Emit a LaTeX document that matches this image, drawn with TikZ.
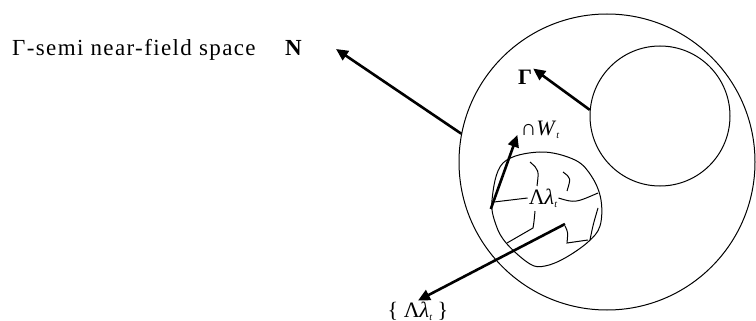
\documentclass[tikz,border=0pt]{standalone}
\usepackage{fontspec}
\setmainfont{Liberation Serif}
\usepackage{tikz}
\usetikzlibrary{arrows.meta}

\begin{document}
\begin{tikzpicture}[x=1pt,y=-1pt,font=\fontsize{23}{26}\selectfont,
  lbl/.style={inner sep=1pt,font=\fontsize{22}{24}\selectfont},
  ring/.style={circle,draw,line width=1pt,inner sep=0pt},
  ar/.style={-{Triangle[length=12pt,width=11pt]},line width=2.6pt},
  ln/.style={line width=1pt}]
\useasboundingbox (0,0) rectangle (756,321);
% outer space and the gamma set
\node[ring,minimum size=296pt] (space) at (607,162) {};
\node[ring,minimum size=140pt] (gset) at (660,116) {};
% labels
\node[inner sep=1pt,anchor=base west] (title) at (11,56) {\addfontfeature{LetterSpace=6}Γ-semi near-field space};
\node[inner sep=1pt,anchor=base west] (nN) at (284,56) {\textbf{N}};
\node[lbl] (gam) at (525,77) {\textbf{Γ}};
\node[lbl] (capW) at (540,130) {∩\textit{W}\raisebox{-3pt}{\fontsize{10}{10}\selectfont\textit{t}}};
\node[lbl] (lam) at (543,198) {Λ\textit{λ}\raisebox{-3pt}{\fontsize{10}{10}\selectfont\textit{t}}};
\node[lbl] (lamset) at (418,311) {\{ Λ\textit{λ}\raisebox{-3pt}{\fontsize{10}{10}\selectfont\textit{t}} \}};
% the cell with its parts
\draw[ln] plot[smooth cycle,tension=0.6] coordinates {(503,163) (540,152) (575,160) (592,177)
  (601,200) (600,226) (588,242) (565,258) (545,266) (530,264) (507,244) (496,225) (492,200)};
\draw[ln] (494,202) -- (lam.west);
\draw[ln] (lam.east) .. controls (575,203) .. (598,193);
\draw[ln] (530,162) .. controls (539,170) .. (537,186);
\draw[ln] (563,172) .. controls (571,178) .. (567,191);
\draw[ln] (535,211) .. controls (534,222) .. (533,228) -- (507,243);
\draw[ln] (565,226) .. controls (568,232) .. (567,243) -- (588,240);
\draw[ln] (598,208) .. controls (593,225) .. (590,240);
\node (cell) at (547,209) [circle,minimum size=112pt] {};
\coordinate (tipN) at (336,49);
\coordinate (src) at (565,224);
% arrows
\draw[ar] (space.169.5) -- (tipN);
\draw[ar] (gset.175) -- (gam.north east);
\draw[ar] (cell.180) -- ([xshift=-2pt,yshift=5pt]capW.south west);
\draw[ar] (src) -- (lamset.north);
\end{tikzpicture}
\end{document}
